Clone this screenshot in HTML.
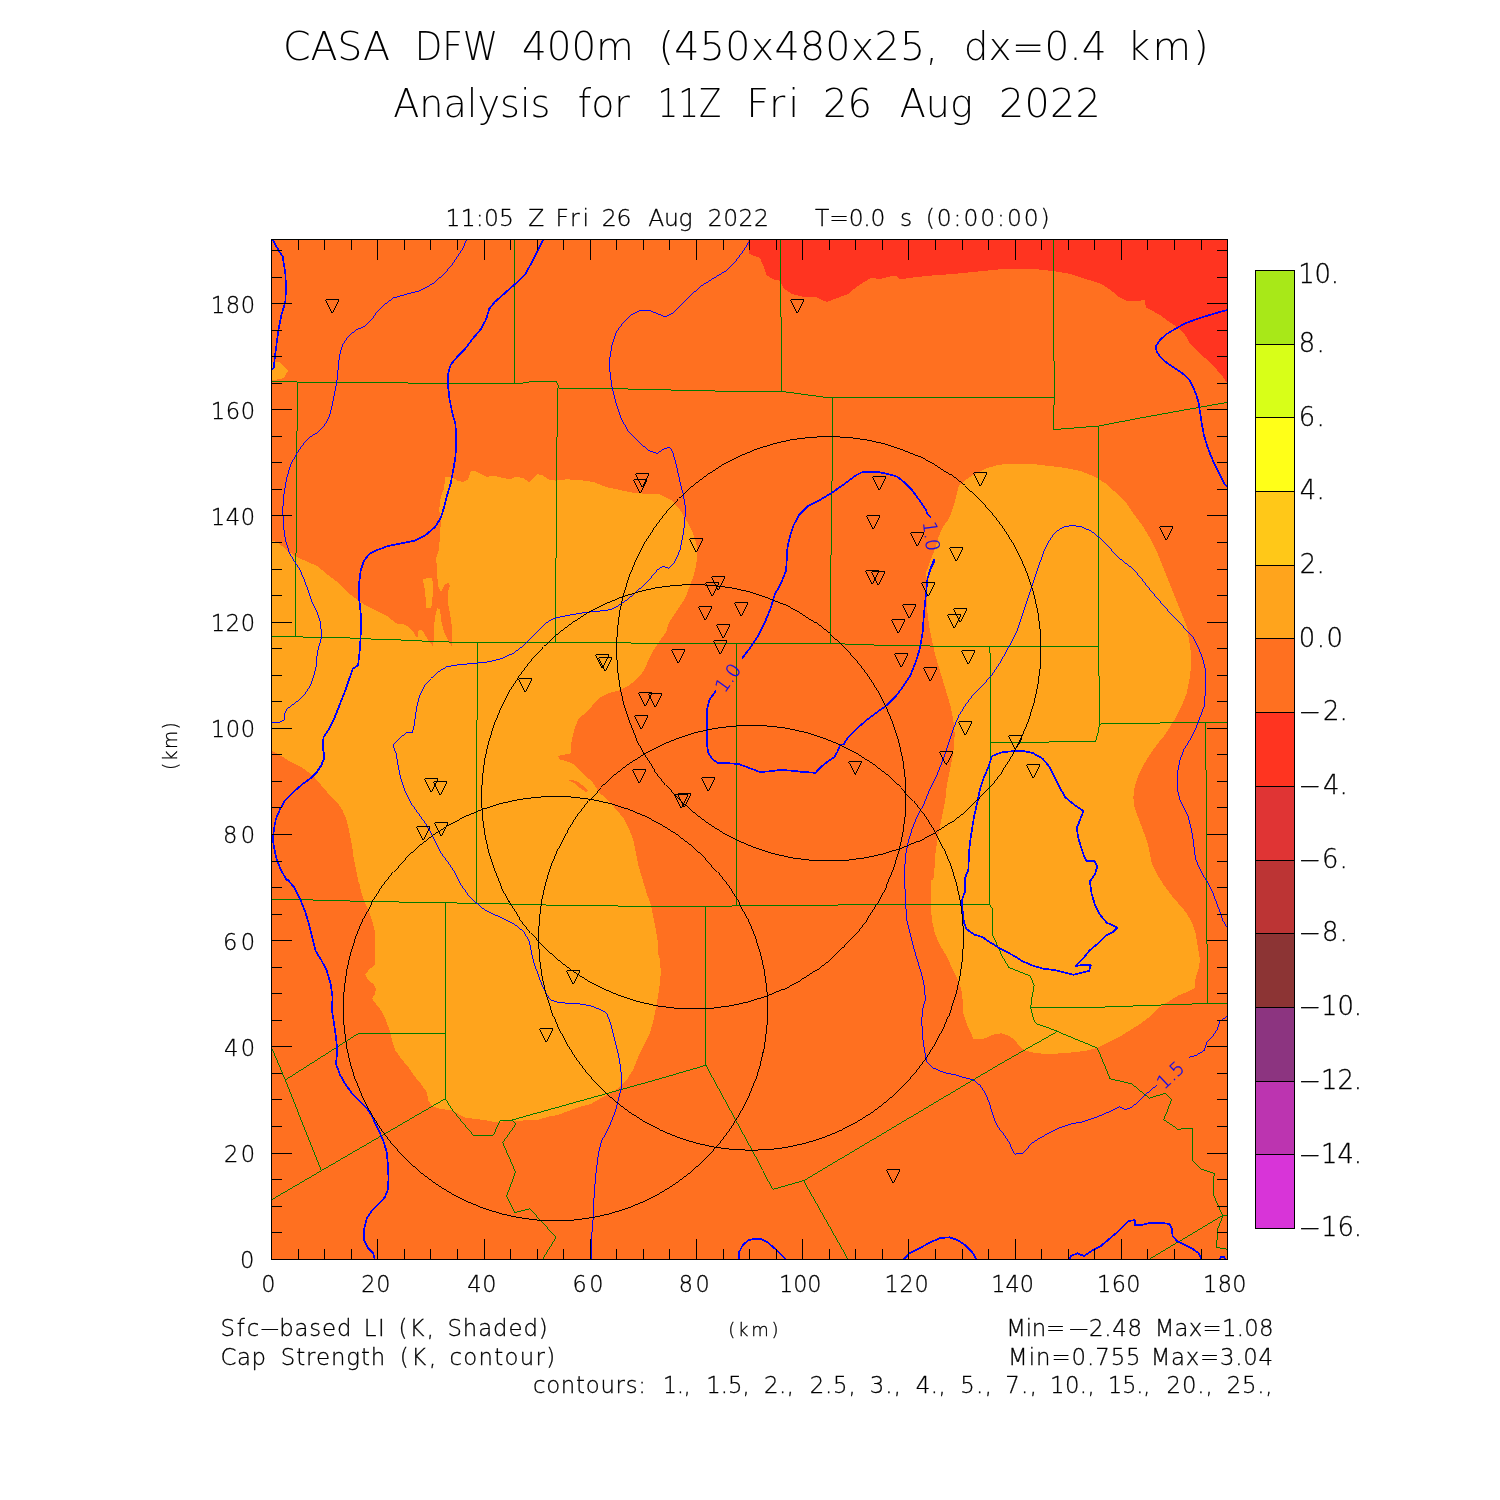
<!DOCTYPE html>
<html lang="en"><head><meta charset="utf-8"><title>CASA DFW 400m Analysis</title>
<style>html,body{margin:0;padding:0;background:#fff;overflow:hidden}svg{display:block}text{font-family:"DejaVu Sans Light","DejaVu Sans","Liberation Sans",sans-serif;font-weight:200;fill:#000}.ce{shape-rendering:crispEdges}.k{fill:none;stroke:#000;stroke-width:.99}.b1{fill:none;stroke:#0000ff;stroke-width:.99}.b2{fill:none;stroke:#0000ff;stroke-width:1.7;stroke-linejoin:round}.g{fill:none;stroke:#007800;stroke-width:.99}.s{stroke:#000;stroke-width:.3px}</style></head><body>
<svg width="1500" height="1500" viewBox="0 0 1500 1500">
<rect width="1500" height="1500" fill="#fff"/>
<defs><clipPath id="pc"><rect x="271" y="239" width="957" height="1021"/></clipPath></defs>
<g clip-path="url(#pc)" class="ce">
<rect x="271" y="239" width="957" height="1021" fill="#ff7020"/>
<polygon fill="#ff3420" points="748,240.1 749.3,254 760,258 764,267.3 766.7,275.3 773.3,279.3 780,280.7 784,288.7 792,294 802.7,296.7 816,297.2 826.7,302 837.3,298 848,294 856,287.3 864,282 872,277.5 880,279.3 888,276.7 896,275.9 900,279.3 913.3,277.5 926.7,275.9 953.3,274 980,271.3 1001.3,269.2 1020,268.7 1038.7,269.5 1054.7,271.3 1070.7,274 1086.7,279.3 1100,283.3 1110.7,290 1118.7,296.7 1126.7,300.7 1134.7,301.5 1144.8,299.9 1145.9,307.3 1153.3,311.3 1161.3,315.9 1169.3,322 1177.3,327.3 1185.3,335.3 1190.7,344.7 1198.7,352.7 1206.7,359.3 1214.7,367.3 1222.7,376.7 1227.5,383.3 1228,383 1228,239 748,239"/>
<polygon fill="#ffa41c" points="271.2,540.7 277.3,542 286.7,550 296,556.7 308,562 317.3,566 326.7,574 337.3,582 348,592.7 358.7,600.7 366.7,606 377.3,611.3 388,616.7 396,623.3 405.3,624.7 412,630 417.3,638.7 418.7,629.3 422.7,630.7 428,640 433.3,646.7 433.9,634.7 434.7,618.7 437.3,608 440,609.3 441.3,621.3 444,632 448,640 452,646.7 452.5,637.3 451.5,624 449.9,613.3 448,602.7 448,592 449.9,585.3 448,582.7 444,585.3 441.3,592 438.1,586.7 437.3,576 437.3,565.3 435.5,560 438.7,550 440,536.7 440.8,520.7 439.2,510 440.8,496.7 444,488.7 445.3,476.7 452,476.7 457.3,480.7 462.7,482 468,479.3 470.7,471.3 476,471.3 481.3,474 486.7,476.7 494.7,475.9 502.7,478 510.7,479.3 516,476.7 522.7,478 529.3,482 537.3,474 542.7,475.3 548,479.3 556,480.7 566.7,479.3 580,480.1 593.3,482 606.7,487.3 620,490 633.3,492.7 646.7,494 660,494.5 664,496.7 672,500.7 680,510 688,523.3 693.3,534 696.5,544.7 697.3,555.3 696,566 693.3,576.7 689.3,587.3 685.3,598 680,606 674.7,614 669.3,622 666.7,630 668,629.3 661.3,638.7 653.3,650.7 648,661.3 644,670.7 637.3,678.7 629.3,685.3 618.7,690.7 608,693.3 600,697.3 596,701.3 588,710.7 578.7,718.7 574.7,728 572,738.7 570.7,746.7 570.7,753.3 564,754.7 558.1,756 560,759.5 566.7,761.3 573.3,764 580,770.7 585.3,776 592,781.3 597.3,789.3 600,793.3 608,800 616,809.3 624,818.7 629.3,829.3 633.3,840 636,853.3 638.7,866.7 642.7,880 646.7,893.3 650.7,904 653.3,917.3 656,930.7 658.1,944 658.7,960 660,957.3 660.8,973.3 659.2,989.3 656.5,1005.3 653.3,1021.3 649.3,1034.7 644,1045.3 638.7,1056 633.3,1069.3 626.7,1080 618.7,1088 610.7,1093.3 600,1098.7 590.7,1104 580,1106.7 569.3,1110.7 558.7,1114.7 548,1116.8 537.3,1120 526.7,1120 516,1121.3 505.3,1121.3 494.7,1122.1 484,1120 473.3,1118.7 464,1117.3 457.3,1113.3 450.7,1109.9 441.3,1109.3 433.3,1106.7 428.5,1101.3 426.7,1092 420,1082.7 413.3,1074.7 408,1066.7 401.3,1058.7 395.5,1050.7 392,1040 389.3,1029.3 385.3,1018.7 381.3,1010.7 376,1004 372,998.7 374.7,994.7 376,989.3 373.3,984 368,980 365.3,974.7 369.3,969.3 374.7,965.3 374.7,954.7 375.5,941.3 374.7,930.7 372,920 368,909.3 364,900 360.8,890.7 358.7,880 358.7,882.7 356,869.3 353.3,856 352,845.3 349.3,832 346.7,820 342.7,810.7 337.3,802.7 329.3,794.7 321.3,785.3 313.3,776 302.7,768 292,762.7 281.3,756 271.2,750.7"/>
<polygon fill="#ffa41c" points="422.7,578.7 432,578.1 433.3,585.3 432,604 430.7,608 425.9,607.5 425.3,592"/>
<polygon fill="#ffa41c" points="271.2,362 280,362 288,370.8 284,378 271.2,380.7"/>
<polygon fill="#ff7020" points="569.3,780 576,780.8 582.7,785.3 588,790.7 585.9,792 580,788 574.7,783.5 569.3,780.8"/>
<polygon fill="#ffa41c" points="956,496.7 958.7,486 966.7,479.3 974.7,474 985.3,468.7 998.7,464.7 1014.7,463.9 1033.3,464.1 1049.3,466 1065.3,467.9 1081.3,471.3 1094.7,476.7 1105.3,483.3 1116,492.7 1126.7,503.3 1134.7,515.3 1142.7,526 1150.7,539.3 1157.3,552.7 1162.7,566 1168,579.3 1173.3,592.7 1178.7,606 1184,619.3 1188,630 1188.5,637.3 1190.7,650.7 1191.2,666.7 1189.3,680 1186.7,693.3 1181.3,706.7 1176,717.3 1169.3,728 1164,736 1157.3,744 1150.7,753.3 1144,764 1138.7,774.7 1134.7,786.7 1133.3,797.3 1134.7,808 1138.7,818.7 1142.7,829.3 1146.7,840 1149.3,850.7 1152,864 1157.3,874.7 1164,885.3 1172,896 1180,905.3 1186.7,913.3 1192,922.7 1195.5,933.3 1197.3,944 1199.2,954.7 1200,960 1198.7,968 1195.5,978.7 1194.7,988 1186.7,992 1177.3,996 1166.7,1002.7 1158.7,1008 1150.7,1016 1140,1024 1129.3,1030.7 1118.7,1037.3 1108,1042.7 1097.3,1048 1086.7,1050.7 1076,1052 1062.7,1053.3 1049.3,1053.9 1036,1053.3 1025.3,1050.7 1020,1046.7 1014.7,1040 1009.3,1036 1001.3,1033.3 993.3,1034.7 984,1038.7 973.3,1038.7 970.7,1032 966.7,1024 963.2,1013.3 962.7,1000 961.3,989.3 957.3,978.7 952,968 946.7,956 940,945.3 934.7,933.3 932,920 930.7,906.7 930.7,893.3 931.2,880 933.3,880 934.7,866.7 935.5,853.3 937.3,840 940,826.7 942.7,813.3 945.3,800 946.7,786.7 949.3,773.3 952,760 954.1,746.7 954.7,733.3 953.3,720 950.7,706.7 946.7,693.3 942.7,680 938.7,666.7 934.7,653.3 932,640 929.3,626.7 927.5,613.3 926.7,600 927.5,586.7 925.9,573.3 929.3,563.3 934.7,550 938.7,536.7 942.7,527.3 949.3,518 953.3,507.3"/>
<polyline class="g" points="271.2,381.2 297.3,382 406.7,382.5 408,383.3 521.3,383.3 532,381.5 556.5,381.5 558.1,384.7 558.7,388.1 614.7,388.7 670.7,390 728,391.3 781.3,391.3 826.7,397.5 1000,397.5 1054.1,397.5"/>
<polyline class="g" points="514.7,239.3 514.7,383.3"/>
<polyline class="g" points="297.3,382 296.8,464.7 296,552.7 295.5,636"/>
<polyline class="g" points="557.3,388.1 556.8,470 556,558 555.5,642.1"/>
<polyline class="g" points="780.5,239 780.5,315.5 781.5,316.5 781.5,391.5"/>
<polyline class="g" points="832.5,397.5 832,480.7 830.9,563.3 830.7,643.5"/>
<polyline class="g" points="1053.3,240.1 1053.9,318 1054.1,397.5 1053.6,429.5 1062.7,428.9 1098.7,426 1140,418 1180,410.8 1227.5,402.3"/>
<polyline class="g" points="1098.7,426 1098.7,630 1098.7,646.1 1099.5,724 1097.9,733.3 1095.5,741.3 1042.7,742.1 990.1,742.7"/>
<polyline class="g" points="271.2,636.5 321.3,637.3 348,637.9 374.7,639.2 401.3,640 428,641.3 452,642.1 477.3,642.7 556,642.1 646.7,643.2 645.3,643.2 736,643.5 830.7,643.5 882.7,645.3 936,646.1 989.9,646.1 989.3,646.7 1098.7,646.1"/>
<polyline class="g" points="477.3,642.7 476.8,773.3 476.5,902.7"/>
<polyline class="g" points="736.5,643.5 736.5,905.3"/>
<polyline class="g" points="989.9,646.7 990.7,693.3 990.1,742.7 989.3,904"/>
<polyline class="g" points="1099.5,724 1150.7,723.2 1205.3,722.1 1227.5,722.1"/>
<polyline class="g" points="1205.9,722.1 1206.1,816 1206.7,906.7 1207.5,1003.5"/>
<polyline class="g" points="271.2,899.5 313.3,900 361.3,901.3 404,902.1 445.3,902.7 476.5,903.5 540,904.5 553.3,905.6 633.3,906.1 629.3,906.1 705.3,906.7 736.5,905.9 861.3,904.8 989.3,904 989.3,904"/>
<polyline class="g" points="445.3,902.7 445.3,1033.3 445.3,1098.7"/>
<polyline class="g" points="445.3,1033.3 358.7,1033.3 285.3,1080"/>
<polyline class="g" points="271.2,1046.7 285.3,1080 321.3,1170.7"/>
<polyline class="g" points="271.2,1200 321.3,1170.7 445.3,1098.7 452,1109.3 462.7,1122.7 473.3,1135.2 493.3,1135.2 500,1120.8 512,1120 660,1078.7 705.9,1065.3"/>
<polyline class="g" points="512,1120 516,1124 502.7,1142.7 515.5,1172 506.7,1196 514.7,1212.5 529.9,1208.8 556,1237.3 542.7,1259.2"/>
<polyline class="g" points="705.3,906.7 705.9,1065.3 773.3,1189.3 804,1180.5 1000,1064 1057.3,1031.5"/>
<polyline class="g" points="804,1180.5 848.5,1259.2"/>
<polyline class="g" points="989.3,904 992.8,909.3 992,921.3 992,933.3 997.3,945.3 1002.7,957.3 1008.8,967.5 1020,972 1030.1,976 1034.1,985.3 1032,997.3 1030.7,1008 1033.3,1018.7 1036.5,1024 1057.3,1031.5 1097.3,1048 1104,1064 1109.9,1078.7 1132,1084 1140,1090.7 1149.3,1098.1 1165.3,1093.3 1171.5,1099.2 1168,1109.3 1163.5,1120 1177.3,1129.3 1192.8,1128 1192,1160 1201.3,1169.3 1214.1,1173.3 1213.3,1194.7 1218.7,1206.7 1222.7,1215.5 1217.3,1229.3 1216.8,1247.5 1227.5,1249.3"/>
<polyline class="g" points="1030.7,1008 1100,1007.2 1166.7,1004.8 1207.5,1003.5 1227.5,1003.2"/>
<polyline class="g" points="1149.3,1259.2 1222.7,1215.5"/>
<polyline class="g" points="1222.5,1215.5 1228,1215.5"/>
<polyline class="b1" points="466.7,239.3 462.7,248.7 452,264.7 444,274 433.3,283.3 420,290.8 405.3,294.5 393.3,298 382.7,306 377.3,311.3 372,319.3 365.3,326 356,330 348,336.7 342.7,344.7 339.5,355.3 338.1,368.7 336.8,382 334.1,395.3 331.5,408.7 328.8,418 324,426 317.3,432.7 310.7,436.7 304,443.3 297.3,452.7 290.7,464.7 286.7,478 284,494 282.7,510 283.5,526 285.3,539.3 289.3,552.7 294.7,562 300,570 304,579.3 308,590 312,602 317.3,612.7 320,620.7 321.9,636 319.2,645.3 317.3,653.3 316,666.7 313.3,677.3 310.7,685.3 305.3,693.3 300,699.2 292,705.3 286.7,709.3 284.5,714.7 284,720 280,722.1 272,722.7"/>
<polyline class="b1" points="749.9,240.1 744,250 736,260.7 725.3,271.3 712,279.3 701.3,286 690.7,295.3 681.3,304.7 673.3,313.2 665.3,316.7 656,313.2 648,310 640,310.5 630.7,315.3 622.7,323.3 616,332.7 612,344.7 609.9,358 609.9,371.3 612,387.3 616,403.3 621.3,419.3 629.3,432.7 640,443.3 649.3,450.8 657.3,453.5 664,448.7 669.9,447.3 673.3,454 676.8,467.3 680,482 683.2,494 685.3,507.3 684.8,523.3 682.7,536.7 680,550 674.7,562 668.8,568.1 662.7,566.5 657.3,570 650.7,578 642.7,586 633.3,594.8 624,602 613.3,608.7 605.3,610.8 596,611.2 580,613.3 566.7,615.5 553.3,618.7 546.7,622.7 540,629.3 532,637.3 524,645.3 513.3,653.3 500,659.2 486.7,662.1 473.3,663.5 460,664.5 446.7,666.7 438.7,671.5 430.7,678.7 424,686.7 419.5,696 416.8,706.7 415.2,717.3 413.9,726.7 412.5,732 406.1,732.8 400,738.1 393.3,744.5 396,753.3 398.1,765.3 400.8,778.7 405.3,792 410.7,802.7 417.3,812 424,821.3 430.7,832 436,842.7 441.3,853.3 449.3,864 456,874.7 461.3,885.3 468,894.7 476,902.7 484,909.3 494.7,914.7 505.3,919.5 516,925.3 524,932 529.3,941.3 529.9,944 532,954.7 534.7,965.3 538.7,976 542.7,986.7 546.7,994.7 550.7,1000 558.7,1002.7 569.3,1003.2 580,1004 590.7,1005.9 600,1009.3 606.7,1013.3 610.7,1024 613.3,1034.7 616,1045.3 618.7,1056 620.5,1066.7 621.6,1077.3 621.3,1088 618.7,1098.7 616,1109.3 612,1120 606.7,1132 601.3,1141.3 598.7,1152 597.3,1162.7 596,1173.3 594.7,1186.7 593.9,1200 593.3,1216 592,1232 591.2,1248 591.2,1259.2"/>
<polyline class="b1" points="1227.5,928 1222.7,920 1220,912 1216,901.3 1212,890.7 1212,890.7 1208,882.7 1202.7,874.7 1198.7,866.7 1195.5,858.7 1194.1,848 1192.8,837.3 1190.7,826.7 1188,816 1184,808 1180,800 1177.9,792 1177.3,781.3 1177.9,770.7 1180,760 1184,749.3 1190.7,738.7 1196,728 1200,717.3 1204,706.7 1205.3,693.3 1205.9,680 1205.3,669.3 1202.7,658.7 1198.7,648 1193.3,637.3 1180,623.3 1172,615.3 1164,606 1156,596.7 1148,587.3 1140,576.7 1132,568.1 1124,562 1116,555.3 1108,546 1100,538 1090.7,530.8 1081.3,526.8 1072,525.5 1062.7,527.3 1054.7,532.7 1049.3,540.7 1044,551.3 1038.7,566 1033.3,582 1028,598 1022.7,614 1017.3,630 1013.3,638.7 1006.7,650.7 1000,662.7 992,674.7 982.7,685.3 973.3,694.7 965.3,705.3 958.7,716 954.7,725.3 950.7,737.3 946.7,749.3 941.3,764 936,777.3 929.3,790.7 924,804 917.3,816 912,829.3 908,842.7 905.3,856 904.8,869.3 904.5,882.7 905.3,893.3 905.9,906.7 906.7,920 910.1,933.3 913.3,946.7 917.3,960 921.3,973.3 924.5,986.7 925.3,1000 922.1,1010.7 921.9,1024 922.7,1037.3 924.5,1050.7 926.7,1061.3 933.3,1068 944,1072.5 954.7,1074.7 965.3,1077.9 973.3,1080 980,1085.3 985.3,1093.3 989.3,1102.7 992,1112 994.7,1120 998.7,1128 1004,1134.7 1009.3,1142.7 1013.3,1152 1014.7,1154.1 1022.7,1153.3 1026.7,1149.3 1030.7,1144 1038.7,1138.7 1049.3,1132.8 1060,1127.5 1070.7,1124 1081.3,1122.1 1092,1118.7 1102.7,1114.7 1113.3,1109.9 1120,1106.7 1124,1109.3 1129.3,1108.8 1137.3,1102.7 1145.3,1094.7 1153.3,1088 1157.3,1085.3"/>
<polyline class="b1" points="1189.3,1057.3 1196,1055.5 1204,1050.7 1206.7,1042.7 1212,1037.3 1217.3,1029.3 1220,1021.3 1227.5,1016"/>
<polyline class="b2" points="272.8,239.3 276,246 282.7,256.7 285.3,272.7 286.1,287.3 285.3,302 281.3,315.3 278.7,328.7 276.5,344.7 274.7,358 273.9,367.3 272,370"/>
<polyline class="b2" points="543.2,239.3 538.7,248.7 532,262 525.3,274 516,283.3 505.3,292.7 494.7,302 489.3,308.7 486.1,319.3 481.3,328.7 473.3,338 465.3,348.7 457.3,356.7 450.7,364.7 448,374 448,384.7 449.3,398 452,411.3 455.5,424.7 456.3,440.7 455.5,456.7 453.3,470 450.7,483.3 446.7,496.7 444,507.3 440.8,518 434.7,527.3 425.3,535.3 414.7,540.7 401.3,543.3 388,546 377.3,550 369.3,554 364,560.7 360.8,570 359.2,582 358.7,595.3 360.3,608.7 361.3,622 360,648 358.1,665.3 352.8,668.8 349.3,678.7 345.3,690.7 340,704 334.7,717.3 328,730.7 323.5,737.3 322.7,746.7 324.5,757.3 321.3,765.3 316,773.3 310.7,778.1 302.7,784 293.3,792 285.3,800 280,809.3 276,818.7 273.9,829.3 272.8,840 274.7,850.7 277.3,861.3 281.3,870.7 286.7,880 288,880 294.7,888 300,898.7 305.3,912 309.3,925.3 312.5,938.7 315.5,950.7 321.3,960 326.7,970.7 330.7,984 332.5,997.3 332,1010.7 334.1,1024 336,1037.3 337.3,1050.7 336,1064 340,1074.7 345.3,1084 352,1093.3 358.7,1100 366.7,1108 372,1116 376,1125.3 380,1133.3 384,1142.7 386.7,1152 388,1165.3 388.5,1178.7 388,1189.3 384.8,1197.3 378.7,1204 372,1210.7 366.7,1218.7 364,1229.3 364,1240 368,1248 373.3,1253.3 374.7,1259.2"/>
<polyline class="b2" points="716,690.7 709.3,700 707.2,709.3 707.2,725.3 706.7,741.3 708,752 712,758.7 717.3,762.7 728,763.2 738.7,764 749.3,768 760,772 770.7,771.2 781.3,769.9 792,770.7 802.7,772 815.5,772.8 821.3,766.7 828,761.3 834.7,756.8 837.9,750.7 840,745.3 844,744 848,737.3 856,729.3 866.7,720 877.3,712 886.7,705.3 896,696 904,685.3 910.7,674.7 916,661.3 920,648 922.7,632 924,613.3 925.9,594.7 927.5,578.7 930.7,568 933.9,560 930.7,568.7 934.7,560.7"/>
<polyline class="b2" points="741.9,658.7 752,645.3 758.7,634.7 765.3,621.3 770.7,608 774.7,594.7 781.3,582.7 786.1,570.7 786.7,560 787.5,547.3 789.9,536.7 793.3,526 798.7,515.3 808,506 818.7,500.7 832,492.7 845.3,483.3 856,475.3 862.7,471.9 877.3,471.9 888,474 897.3,476.7 904,482 912,490 918.7,499.3 925.3,508.7 927.5,514 930.7,517.5"/>
<polyline class="b2" points="1227.5,310 1217.3,312.7 1206.7,315.9 1196,319.3 1185.3,323.3 1174.7,329.2 1166.7,334 1160,339.9 1156,346 1156.5,351.3 1160,356.7 1166.7,362.8 1174.7,368.1 1182.7,373.5 1189.3,379.9 1193.3,387.3 1196.5,395.3 1198.7,403.3 1200.3,414 1201.9,424.7 1204,435.3 1207.2,446 1210.7,455.3 1214.7,464.7 1220,475.3 1224,483.3 1227.5,487.3"/>
<polyline class="b2" points="992,756 1001.3,752.5 1012,751.2 1022.7,750.7 1033.3,753.3 1042.7,758.7 1049.3,766.7 1054.7,777.3 1060,788 1065.3,797.3 1073.3,804 1083.5,811.2 1080,820 1076.8,828 1078.1,837.3 1081.3,848 1084,856 1086.7,861.3 1094.7,861.3 1097.3,866.7 1094.7,874.7 1089.9,881.3 1091.5,893.3 1094.7,904 1100,914.7 1106.7,922.7 1117.3,927.5 1113.3,932 1105.3,936 1097.3,944 1089.3,950.7 1084,957.3 1076,965.9 1084,964.8 1090.7,965.3 1089.3,970.7 1081.3,972.8 1073.3,974.7 1065.3,972.8 1054.7,970.1 1044,968.8 1033.3,965.9 1022.7,961.3 1012,954.7 1001.3,949.3 990.7,942.7 982.7,937.3 974.7,934.7 966.7,929.3 964,922.7 962.7,912 961.9,900 965.3,890.7 965.3,880 965.3,877.3 968.5,869.3 968.8,856 969.9,842.7 972,829.3 974.1,816 977.3,802.7 980,789.3 984,777.3 988,768 992,756"/>
<polyline class="b2" points="738.7,1259.2 739.2,1252 742.7,1245.3 748,1240.5 754.7,1238.7 761.3,1239.2 768,1242.7 774.7,1248.5 781.3,1254.7 785.3,1259.2"/>
<polyline class="b2" points="904,1259.2 909.3,1253.3 920,1248 930.7,1242.1 940,1238.1 949.3,1237.3 957.3,1240 965.3,1245.3 972,1252 976.5,1259.2"/>
<polyline class="b2" points="1069.3,1259.2 1070.7,1256 1077.3,1253.3 1084,1256 1092,1250.7 1100,1246.7 1108,1240 1116,1233.3 1122.7,1226.7 1128,1221.3 1134.7,1220 1135.2,1225.3 1140,1225.3 1150.7,1222.7 1161.3,1222.7 1169.3,1224 1172,1229.3 1172.5,1236 1177.3,1241.3 1185.3,1245.3 1193.3,1249.3 1198.7,1253.3 1201.3,1259.2"/>
<polyline class="b2" points="1219.5,1259.2 1220.8,1257.1 1224,1257.1 1225.3,1259.2"/>
<polygon class="k" points="1041,648.8 1040.2,630.3 1037.8,611.9 1033.8,593.8 1028.2,576.2 1021.1,559 1012.6,542.6 1002.6,527 991.3,512.3 978.8,498.7 965.2,486.2 950.5,474.9 934.9,464.9 918.5,456.4 901.3,449.3 883.7,443.7 865.6,439.7 847.2,437.3 828.8,436.5 810.3,437.3 791.9,439.7 773.8,443.7 756.2,449.3 739,456.4 722.6,464.9 707,474.9 692.3,486.2 678.7,498.7 666.2,512.3 654.9,527 644.9,542.6 636.4,559 629.3,576.2 623.7,593.8 619.7,611.9 617.3,630.3 616.5,648.8 617.3,667.2 619.7,685.6 623.7,703.7 629.3,721.3 636.4,738.5 644.9,754.9 654.9,770.5 666.2,785.2 678.7,798.8 692.3,811.3 707,822.6 722.6,832.6 739,841.1 756.2,848.2 773.8,853.8 791.9,857.8 810.3,860.2 828.8,861 847.2,860.2 865.6,857.8 883.7,853.8 901.3,848.2 918.5,841.1 934.9,832.6 950.5,822.6 965.2,811.3 978.8,798.8 991.3,785.2 1002.6,770.5 1012.6,754.9 1021.1,738.5 1028.2,721.3 1033.8,703.7 1037.8,685.6 1040.2,667.2"/>
<polygon class="k" points="906,796.8 905.2,778.3 902.8,759.9 898.8,741.8 893.2,724.2 886.1,707 877.6,690.6 867.6,675 856.3,660.3 843.8,646.7 830.2,634.2 815.5,622.9 799.9,612.9 783.5,604.4 766.3,597.3 748.7,591.7 730.6,587.7 712.2,585.3 693.8,584.5 675.3,585.3 656.9,587.7 638.8,591.7 621.2,597.3 604,604.4 587.6,612.9 572,622.9 557.3,634.2 543.7,646.7 531.2,660.3 519.9,675 509.9,690.6 501.4,707 494.3,724.2 488.7,741.8 484.7,759.9 482.3,778.3 481.5,796.8 482.3,815.2 484.7,833.6 488.7,851.7 494.3,869.3 501.4,886.5 509.9,902.9 519.9,918.5 531.2,933.2 543.7,946.8 557.3,959.3 572,970.6 587.6,980.6 604,989.1 621.2,996.2 638.8,1001.8 656.9,1005.8 675.3,1008.2 693.8,1009 712.2,1008.2 730.6,1005.8 748.7,1001.8 766.3,996.2 783.5,989.1 799.9,980.6 815.5,970.6 830.2,959.3 843.8,946.8 856.3,933.2 867.6,918.5 877.6,902.9 886.1,886.5 893.2,869.3 898.8,851.7 902.8,833.6 905.2,815.2"/>
<polygon class="k" points="963.5,937.8 962.7,919.3 960.3,900.9 956.3,882.8 950.7,865.1 943.6,848 935,831.5 925.1,815.9 913.8,801.2 901.3,787.5 887.6,775 872.9,763.7 857.2,753.8 840.8,745.2 823.7,738.1 806,732.5 787.9,728.5 769.5,726.1 751,725.3 732.5,726.1 714.1,728.5 696,732.5 678.3,738.1 661.2,745.2 644.8,753.8 629.1,763.7 614.4,775 600.7,787.5 588.2,801.2 576.9,815.9 567,831.5 558.4,848 551.3,865.1 545.7,882.8 541.7,900.9 539.3,919.3 538.5,937.8 539.3,956.3 541.7,974.7 545.7,992.8 551.3,1010.5 558.4,1027.6 567,1044 576.9,1059.7 588.2,1074.4 600.7,1088.1 614.4,1100.6 629.1,1111.9 644.7,1121.8 661.2,1130.4 678.3,1137.5 696,1143.1 714.1,1147.1 732.5,1149.5 751,1150.3 769.5,1149.5 787.9,1147.1 806,1143.1 823.7,1137.5 840.8,1130.4 857.2,1121.8 872.9,1111.9 887.6,1100.6 901.3,1088.1 913.8,1074.4 925.1,1059.7 935,1044 943.6,1027.6 950.7,1010.5 956.3,992.8 960.3,974.7 962.7,956.3"/>
<polygon class="k" points="767.8,1008.6 766.9,990.1 764.5,971.7 760.5,953.7 754.9,936 747.9,918.9 739.3,902.5 729.4,886.9 718.1,872.2 705.6,858.5 691.9,846 677.2,834.7 661.6,824.8 645.2,816.2 628.1,809.2 610.4,803.6 592.4,799.6 574,797.2 555.5,796.4 537,797.2 518.6,799.6 500.6,803.6 482.9,809.2 465.8,816.2 449.4,824.8 433.8,834.7 419.1,846 405.4,858.5 392.9,872.2 381.6,886.9 371.7,902.5 363.1,918.9 356.1,936 350.5,953.7 346.5,971.7 344.1,990.1 343.2,1008.6 344.1,1027.1 346.5,1045.5 350.5,1063.5 356.1,1081.2 363.1,1098.3 371.7,1114.7 381.6,1130.3 392.9,1145 405.4,1158.7 419.1,1171.2 433.8,1182.5 449.4,1192.4 465.8,1201 482.9,1208 500.6,1213.6 518.6,1217.6 537,1220 555.5,1220.8 574,1220 592.4,1217.6 610.4,1213.6 628.1,1208 645.2,1201 661.6,1192.4 677.2,1182.5 691.9,1171.2 705.6,1158.7 718.1,1145 729.4,1130.3 739.3,1114.7 747.9,1098.3 754.9,1081.2 760.5,1063.5 764.5,1045.5 766.9,1027.1"/>
<path class="k" d="M325.5,299.5h13l-6.5,13zM635.5,473.5h13l-6.5,13zM633.5,479.5h13l-6.5,13zM790.5,299.5h13l-6.5,13zM872.5,476.5h13l-6.5,13zM973.5,472.5h13l-6.5,13zM866.5,515.5h13l-6.5,13zM910.5,532.5h13l-6.5,13zM689.5,538.5h13l-6.5,13zM949.5,547.5h13l-6.5,13zM865.5,570.5h13l-6.5,13zM871.5,571.5h13l-6.5,13zM921.5,582.5h13l-6.5,13zM711.5,576.5h13l-6.5,13zM705.5,582.5h13l-6.5,13zM902.5,604.5h13l-6.5,13zM734.5,602.5h13l-6.5,13zM698.5,606.5h13l-6.5,13zM953.5,608.5h13l-6.5,13zM947.5,614.5h13l-6.5,13zM891.5,619.5h13l-6.5,13zM716.5,624.5h13l-6.5,13zM1159.5,526.5h13l-6.5,13zM595.5,654.5h13l-6.5,13zM598.5,657.5h13l-6.5,13zM518.5,678.5h13l-6.5,13zM638.5,692.5h13l-6.5,13zM648.5,693.5h13l-6.5,13zM634.5,715.5h13l-6.5,13zM632.5,769.5h13l-6.5,13zM424.5,778.5h13l-6.5,13zM433.5,781.5h13l-6.5,13zM434.5,822.5h13l-6.5,13zM416.5,826.5h13l-6.5,13zM713.5,640.5h13l-6.5,13zM671.5,649.5h13l-6.5,13zM701.5,777.5h13l-6.5,13zM674.5,794.5h13l-6.5,13zM677.5,793.5h13l-6.5,13zM848.5,761.5h13l-6.5,13zM894.5,653.5h13l-6.5,13zM961.5,650.5h13l-6.5,13zM923.5,667.5h13l-6.5,13zM958.5,721.5h13l-6.5,13zM939.5,751.5h13l-6.5,13zM1008.5,735.5h13l-6.5,13zM1026.5,764.5h13l-6.5,13zM566.5,970.5h13l-6.5,13zM539.5,1028.5h13l-6.5,13zM886.5,1169.5h13l-6.5,13z"/>
</g>
<path class="k ce" d="M271.5,239v21M271.5,1260v-21M298.5,239v11M298.5,1260v-11M324.5,239v11M324.5,1260v-11M351.5,239v11M351.5,1260v-11M377.5,239v21M377.5,1260v-21M404.5,239v11M404.5,1260v-11M430.5,239v11M430.5,1260v-11M457.5,239v11M457.5,1260v-11M484.5,239v21M484.5,1260v-21M510.5,239v11M510.5,1260v-11M537.5,239v11M537.5,1260v-11M563.5,239v11M563.5,1260v-11M590.5,239v21M590.5,1260v-21M616.5,239v11M616.5,1260v-11M643.5,239v11M643.5,1260v-11M669.5,239v11M669.5,1260v-11M696.5,239v21M696.5,1260v-21M723.5,239v11M723.5,1260v-11M749.5,239v11M749.5,1260v-11M776.5,239v11M776.5,1260v-11M802.5,239v21M802.5,1260v-21M829.5,239v11M829.5,1260v-11M855.5,239v11M855.5,1260v-11M882.5,239v11M882.5,1260v-11M908.5,239v21M908.5,1260v-21M935.5,239v11M935.5,1260v-11M962.5,239v11M962.5,1260v-11M988.5,239v11M988.5,1260v-11M1015.5,239v21M1015.5,1260v-21M1041.5,239v11M1041.5,1260v-11M1068.5,239v11M1068.5,1260v-11M1094.5,239v11M1094.5,1260v-11M1121.5,239v21M1121.5,1260v-21M1147.5,239v11M1147.5,1260v-11M1174.5,239v11M1174.5,1260v-11M1201.5,239v11M1201.5,1260v-11M1227.5,239v21M1227.5,1260v-21M271,1259.5h21M1228,1259.5h-21M271,1232.5h11M1228,1232.5h-11M271,1206.5h11M1228,1206.5h-11M271,1179.5h11M1228,1179.5h-11M271,1153.5h21M1228,1153.5h-21M271,1126.5h11M1228,1126.5h-11M271,1099.5h11M1228,1099.5h-11M271,1073.5h11M1228,1073.5h-11M271,1046.5h21M1228,1046.5h-21M271,1020.5h11M1228,1020.5h-11M271,993.5h11M1228,993.5h-11M271,967.5h11M1228,967.5h-11M271,940.5h21M1228,940.5h-21M271,914.5h11M1228,914.5h-11M271,887.5h11M1228,887.5h-11M271,861.5h11M1228,861.5h-11M271,834.5h21M1228,834.5h-21M271,807.5h11M1228,807.5h-11M271,781.5h11M1228,781.5h-11M271,754.5h11M1228,754.5h-11M271,728.5h21M1228,728.5h-21M271,701.5h11M1228,701.5h-11M271,675.5h11M1228,675.5h-11M271,648.5h11M1228,648.5h-11M271,622.5h21M1228,622.5h-21M271,595.5h11M1228,595.5h-11M271,569.5h11M1228,569.5h-11M271,542.5h11M1228,542.5h-11M271,515.5h21M1228,515.5h-21M271,489.5h11M1228,489.5h-11M271,462.5h11M1228,462.5h-11M271,436.5h11M1228,436.5h-11M271,409.5h21M1228,409.5h-21M271,383.5h11M1228,383.5h-11M271,356.5h11M1228,356.5h-11M271,330.5h11M1228,330.5h-11M271,303.5h21M1228,303.5h-21M271,277.5h11M1228,277.5h-11M271,250.5h11M1228,250.5h-11"/>
<rect class="k ce" x="271.5" y="239.5" width="956" height="1020"/>
<g class="ce">
<rect x="1255.5" y="270.5" width="39" height="74" fill="#a8e818" stroke="#000" stroke-width="1"/>
<rect x="1255.5" y="344.5" width="39" height="73" fill="#d8ff18" stroke="#000" stroke-width="1"/>
<rect x="1255.5" y="417.5" width="39" height="74" fill="#ffff18" stroke="#000" stroke-width="1"/>
<rect x="1255.5" y="491.5" width="39" height="74" fill="#ffc818" stroke="#000" stroke-width="1"/>
<rect x="1255.5" y="565.5" width="39" height="73" fill="#ffa41c" stroke="#000" stroke-width="1"/>
<rect x="1255.5" y="638.5" width="39" height="74" fill="#ff7020" stroke="#000" stroke-width="1"/>
<rect x="1255.5" y="712.5" width="39" height="74" fill="#ff3420" stroke="#000" stroke-width="1"/>
<rect x="1255.5" y="786.5" width="39" height="74" fill="#e03434" stroke="#000" stroke-width="1"/>
<rect x="1255.5" y="860.5" width="39" height="73" fill="#bc3434" stroke="#000" stroke-width="1"/>
<rect x="1255.5" y="933.5" width="39" height="74" fill="#8c3434" stroke="#000" stroke-width="1"/>
<rect x="1255.5" y="1007.5" width="39" height="74" fill="#8c3480" stroke="#000" stroke-width="1"/>
<rect x="1255.5" y="1081.5" width="39" height="73" fill="#bc34b0" stroke="#000" stroke-width="1"/>
<rect x="1255.5" y="1154.5" width="39" height="74" fill="#d834d8" stroke="#000" stroke-width="1"/>
</g>
<text id="t1" y="60" font-size="39.6"><tspan x="282.9" style="letter-spacing:-0.133px">CASA</tspan> <tspan x="414.67" textLength="83.58" lengthAdjust="spacingAndGlyphs">DFW</tspan> <tspan x="522.04" textLength="111.89" lengthAdjust="spacingAndGlyphs">400m</tspan> <tspan x="658.49" style="letter-spacing:0.302px">(450x480x25,</tspan> <tspan x="963.74" textLength="142.89" lengthAdjust="spacingAndGlyphs">dx=0.4</tspan> <tspan x="1127.3" style="letter-spacing:2.25px">km)</tspan></text>
<text id="t2" y="116.5" font-size="39.6"><tspan x="393.14" textLength="157.37" lengthAdjust="spacingAndGlyphs">Analysis</tspan> <tspan x="577.84" textLength="52.08" lengthAdjust="spacingAndGlyphs">for</tspan> <tspan x="657.51" textLength="63.71" lengthAdjust="spacingAndGlyphs">11Z</tspan> <tspan x="746.19" style="letter-spacing:3px">Fri</tspan> <tspan x="822.88" textLength="49.05" lengthAdjust="spacingAndGlyphs">26</tspan> <tspan x="899.69" textLength="73.11" lengthAdjust="spacingAndGlyphs">Aug</tspan> <tspan x="999.02" style="letter-spacing:0.333px">2022</tspan></text>
<text id="s1" class="s" y="226.2" font-size="23.4"><tspan x="445.5" style="letter-spacing:0.25px">11:05</tspan> <tspan x="528.2">Z</tspan> <tspan x="555.4" style="letter-spacing:2.85px">Fri</tspan> <tspan x="601.65" textLength="29.92" lengthAdjust="spacingAndGlyphs">26</tspan> <tspan x="648.17" style="letter-spacing:-0.18px">Aug</tspan> <tspan x="707.8" style="letter-spacing:0.5px">2022</tspan> <tspan x="815.1" style="letter-spacing:-0.175px">T=0.0</tspan> <tspan x="900.1">s</tspan> <tspan x="925.64" style="letter-spacing:1.962px">(0:00:00)</tspan></text>
<text id="b1" class="s" y="1336.2" font-size="22.8"><tspan x="220.5" style="letter-spacing:1.85px">Sfc</tspan><tspan x="259.07" textLength="21.68" lengthAdjust="spacingAndGlyphs">-</tspan><tspan x="279.15" style="letter-spacing:0.872px">based</tspan> <tspan x="363.78" style="letter-spacing:1.44px">LI</tspan> <tspan x="398.5" style="letter-spacing:2.15px">(K,</tspan> <tspan x="447.5" style="letter-spacing:0.9px">Shaded)</tspan></text>
<text id="km1" class="s" y="1336.2" font-size="18"><tspan x="728.3" style="letter-spacing:2.733px">(km)</tspan></text>
<text id="b4" class="s" y="1336.2" font-size="22.8"><tspan x="1006.15" style="letter-spacing:-0.17px">Min=</tspan><tspan x="1067.51" textLength="22.63" lengthAdjust="spacingAndGlyphs">-</tspan><tspan x="1089" style="letter-spacing:0.733px">2.48</tspan> <tspan x="1154.7" style="letter-spacing:0.257px">Max=1.08</tspan></text>
<text id="b2" class="s" y="1365.2" font-size="22.8"><tspan x="220.5" style="letter-spacing:0.5px">Cap</tspan> <tspan x="280.7" style="letter-spacing:0.971px">Strength</tspan> <tspan x="399.7" style="letter-spacing:2.75px">(K,</tspan> <tspan x="449.49" style="letter-spacing:1.291px">contour)</tspan></text>
<text id="b5" class="s" y="1365.2" font-size="22.8"><tspan x="1008.1" style="letter-spacing:0.962px">Min=0.755</tspan> <tspan x="1150.64" style="letter-spacing:0.787px">Max=3.04</tspan></text>
<text id="b3" class="s" y="1393.3" font-size="22.8"><tspan x="532.9" style="letter-spacing:0.737px">contours:</tspan> <tspan x="663.06" textLength="27.66" lengthAdjust="spacingAndGlyphs">1.,</tspan> <tspan x="706.34" style="letter-spacing:-0.05px">1.5,</tspan> <tspan x="763.9" style="letter-spacing:0.55px">2.,</tspan> <tspan x="809.66" style="letter-spacing:0.843px">2.5,</tspan> <tspan x="869.64" style="letter-spacing:1.18px">3.,</tspan> <tspan x="915.7" style="letter-spacing:0.55px">4.,</tspan> <tspan x="960.2" style="letter-spacing:1.4px">5.,</tspan> <tspan x="1005.2" style="letter-spacing:1.35px">7.,</tspan> <tspan x="1050.1" style="letter-spacing:0.367px">10.,</tspan> <tspan x="1108.05" textLength="42.4" lengthAdjust="spacingAndGlyphs">15.,</tspan> <tspan x="1166.5" style="letter-spacing:0.9px">20.,</tspan> <tspan x="1226.7" style="letter-spacing:0.8px">25.,</tspan></text>
<text id="xl0" class="s" y="1291.8" font-size="22.3"><tspan x="261.3">0</tspan></text>
<text id="xl20" class="s" y="1291.8" font-size="22.3"><tspan x="361.3" style="letter-spacing:0.7px">20</tspan></text>
<text id="xl40" class="s" y="1291.8" font-size="22.3"><tspan x="467.3" style="letter-spacing:0.7px">40</tspan></text>
<text id="xl60" class="s" y="1291.8" font-size="22.3"><tspan x="572.51" style="letter-spacing:2.68px">60</tspan></text>
<text id="xl80" class="s" y="1291.8" font-size="22.3"><tspan x="678.7" style="letter-spacing:2.6px">80</tspan></text>
<text id="xl100" class="s" y="1291.8" font-size="22.3"><tspan x="779">100</tspan></text>
<text id="xl120" class="s" y="1291.8" font-size="22.3"><tspan x="884.49" style="letter-spacing:0.85px">120</tspan></text>
<text id="xl140" class="s" y="1291.8" font-size="22.3"><tspan x="991.3">140</tspan></text>
<text id="xl160" class="s" y="1291.8" font-size="22.3"><tspan x="1097" style="letter-spacing:0.5px">160</tspan></text>
<text id="xl180" class="s" y="1291.8" font-size="22.3"><tspan x="1203" style="letter-spacing:0.5px">180</tspan></text>
<text id="yl0" class="s" y="1267.8" font-size="22.6"><tspan x="239.93">0</tspan></text>
<text id="yl20" class="s" y="1161.7" font-size="22.6"><tspan x="224.1" style="letter-spacing:2.2px">20</tspan></text>
<text id="yl40" class="s" y="1055.6" font-size="22.6"><tspan x="224.1" style="letter-spacing:2.2px">40</tspan></text>
<text id="yl60" class="s" y="949.5" font-size="22.6"><tspan x="223.1" style="letter-spacing:3.2px">60</tspan></text>
<text id="yl80" class="s" y="843.4" font-size="22.6"><tspan x="223.1" style="letter-spacing:3.2px">80</tspan></text>
<text id="yl100" class="s" y="737.2" font-size="22.6"><tspan x="210.74" style="letter-spacing:0.64px">100</tspan></text>
<text id="yl120" class="s" y="631.1" font-size="22.6"><tspan x="210.74" style="letter-spacing:0.64px">120</tspan></text>
<text id="yl140" class="s" y="525" font-size="22.6"><tspan x="210.74" style="letter-spacing:0.64px">140</tspan></text>
<text id="yl160" class="s" y="418.9" font-size="22.6"><tspan x="210.74" style="letter-spacing:0.64px">160</tspan></text>
<text id="yl180" class="s" y="312.8" font-size="22.6"><tspan x="210.74" style="letter-spacing:0.64px">180</tspan></text>
<text id="cb0" class="s" y="282.7" font-size="25.8"><tspan x="1298.19" style="letter-spacing:-0.095px">10.</tspan></text>
<text id="cb1" class="s" y="351.9" font-size="25.8"><tspan x="1298.7" style="letter-spacing:1.3px">8.</tspan></text>
<text id="cb2" class="s" y="425.6" font-size="25.8"><tspan x="1298.7" style="letter-spacing:1.3px">6.</tspan></text>
<text id="cb3" class="s" y="499.3" font-size="25.8"><tspan x="1299.7" style="letter-spacing:0.3px">4.</tspan></text>
<text id="cb4" class="s" y="573" font-size="25.8"><tspan x="1299.7" style="letter-spacing:0.3px">2.</tspan></text>
<text id="cb5" class="s" y="646.7" font-size="25.8"><tspan x="1298.7" style="letter-spacing:1.65px">0.0</tspan></text>
<text id="cb6" class="s" y="720.4" font-size="25.8"><tspan x="1298.23" textLength="23.02" lengthAdjust="spacingAndGlyphs">-</tspan><tspan x="1323">2.</tspan></text>
<text id="cb7" class="s" y="794" font-size="25.8"><tspan x="1298.23" textLength="23.02" lengthAdjust="spacingAndGlyphs">-</tspan><tspan x="1323">4.</tspan></text>
<text id="cb8" class="s" y="867.7" font-size="25.8"><tspan x="1298.23" textLength="23.02" lengthAdjust="spacingAndGlyphs">-</tspan><tspan x="1322" style="letter-spacing:1px">6.</tspan></text>
<text id="cb9" class="s" y="941.4" font-size="25.8"><tspan x="1298.23" textLength="23.02" lengthAdjust="spacingAndGlyphs">-</tspan><tspan x="1322" style="letter-spacing:1px">8.</tspan></text>
<text id="cb10" class="s" y="1015.1" font-size="25.8"><tspan x="1298.23" textLength="23.02" lengthAdjust="spacingAndGlyphs">-</tspan><tspan x="1321">10.</tspan></text>
<text id="cb11" class="s" y="1088.8" font-size="25.8"><tspan x="1298.23" textLength="23.02" lengthAdjust="spacingAndGlyphs">-</tspan><tspan x="1321">12.</tspan></text>
<text id="cb12" class="s" y="1162.5" font-size="25.8"><tspan x="1298.23" textLength="23.02" lengthAdjust="spacingAndGlyphs">-</tspan><tspan x="1321">14.</tspan></text>
<text id="cb13" class="s" y="1236.2" font-size="25.8"><tspan x="1298.23" textLength="23.02" lengthAdjust="spacingAndGlyphs">-</tspan><tspan x="1321">16.</tspan></text>
<text id="km2" transform="translate(177,768) rotate(-90)" x="-2" y="0" font-size="18.6" style="letter-spacing:1.433px;stroke:#000;stroke-width:.3px">(km)</text>
<text id="c1" transform="translate(724.5,693.8) rotate(-54.5)" x="0" y="0" font-size="18.9" style="fill:#00f;stroke:#00f;stroke-width:.25px">1.0</text>
<text id="c2" transform="translate(923.1,521.9) rotate(83.3)" x="0" y="0" font-size="18.9" style="fill:#00f;stroke:#00f;stroke-width:.25px">1.0</text>
<text id="c3" transform="translate(1163.9,1090.2) rotate(-43.2)" x="0" y="0" font-size="18.9" style="fill:#00f;stroke:#00f;stroke-width:.25px">1.5</text>
</svg></body></html>
